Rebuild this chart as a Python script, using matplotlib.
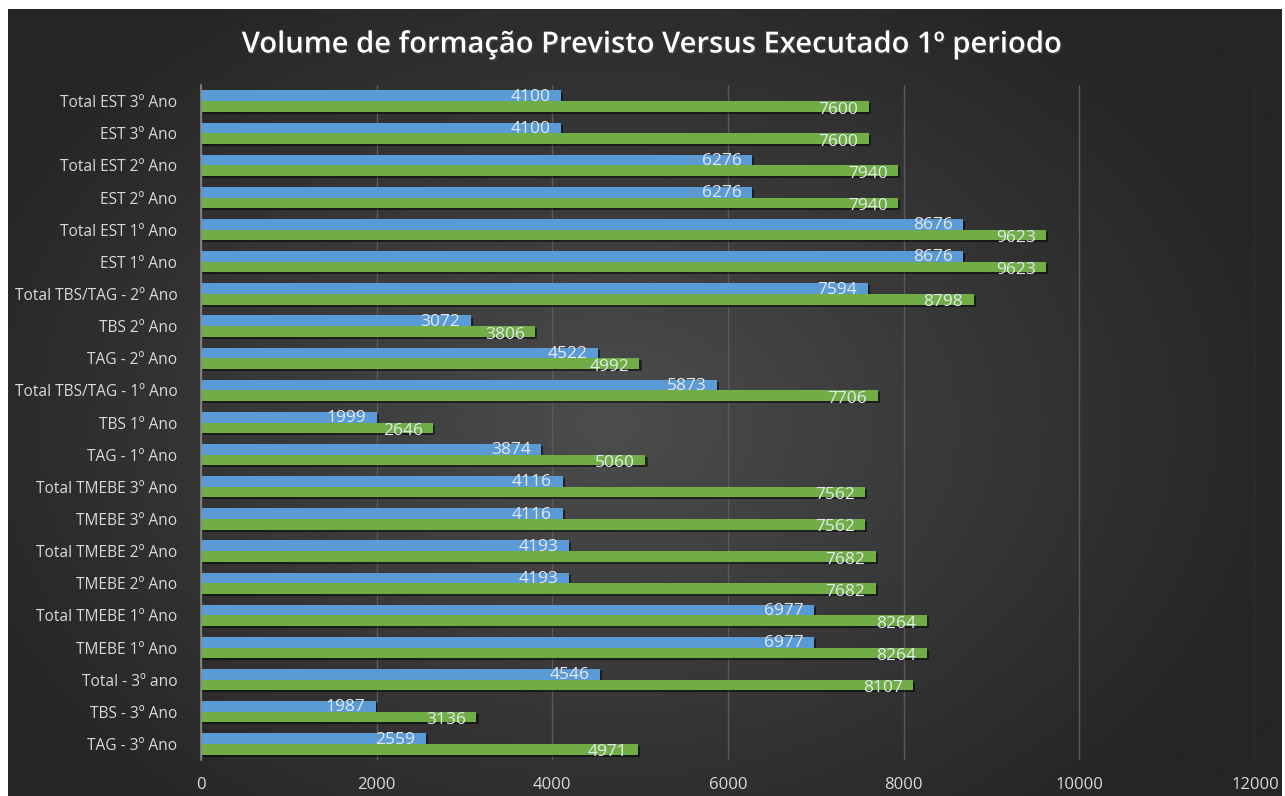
import numpy as np
import matplotlib
matplotlib.use("Agg")
import matplotlib.pyplot as plt
import matplotlib.patheffects as pe

categories = [
    "Total EST 3º Ano", "EST 3º Ano", "Total EST 2º Ano", "EST 2º Ano",
    "Total EST 1º Ano", "EST 1º Ano", "Total TBS/TAG - 2º Ano", "TBS 2º Ano",
    "TAG - 2º Ano", "Total TBS/TAG - 1º Ano", "TBS 1º Ano", "TAG - 1º Ano",
    "Total TMEBE 3º Ano", "TMEBE 3º Ano", "Total TMEBE 2º Ano", "TMEBE 2º Ano",
    "Total TMEBE 1º Ano", "TMEBE 1º Ano", "Total - 3º ano", "TBS - 3º Ano",
    "TAG - 3º Ano",
]
executado = [4100, 4100, 6276, 6276, 8676, 8676, 7594, 3072, 4522, 5873, 1999,
             3874, 4116, 4116, 4193, 4193, 6977, 6977, 4546, 1987, 2559]
previsto = [7600, 7600, 7940, 7940, 9623, 9623, 8798, 3806, 4992, 7706, 2646,
            5060, 7562, 7562, 7682, 7682, 8264, 8264, 8107, 3136, 4971]
xticks = [0, 2000, 4000, 6000, 8000, 10000, 12000]
title = "Volume de formação Previsto Versus Executado 1º periodo"

W, H = 1285, 796
fig = plt.figure(figsize=(W / 100, H / 100), dpi=100)
fig.patch.set_facecolor("white")

# background with radial gradient
bg = fig.add_axes([8 / W, 0, (1282 - 8) / W, (H - 9) / H])
bg.set_axis_off()
yy, xx = np.mgrid[0:200, 0:320]
cx, cy = 150, 105
r = np.sqrt(((xx - cx) / 180) ** 2 + ((yy - cy) / 135) ** 2)
v = np.clip(1 - r, 0, 1)
light = np.array([0x4d, 0x4d, 0x4d]) / 255
dark = np.array([0x25, 0x25, 0x25]) / 255
img = dark + (light - dark) * v[..., None] ** 1.1
bg.imshow(img, aspect="auto", extent=[0, 1, 0, 1], interpolation="bilinear")
bg.set_xlim(0, 1); bg.set_ylim(0, 1)

ax = fig.add_axes([201 / W, (H - 760) / H, (1255 - 201) / W, (760 - 85) / H])
ax.set_facecolor("none")
n = len(categories)
pos = np.arange(n)[::-1]
h = 0.33
shadow = [pe.SimplePatchShadow(offset=(1.5, -1.5), shadow_rgbFace="black", alpha=0.5), pe.Normal()]
b1 = ax.barh(pos + h / 2, executado, height=h, color="#5b9bd5", zorder=3)
b2 = ax.barh(pos - h / 2, previsto, height=h, color="#70ad47", zorder=3)
for b in list(b1) + list(b2):
    b.set_path_effects(shadow)

for p, v1, v2 in zip(pos, executado, previsto):
    ax.text(v1 - 120, p + h / 2 - 0.03, str(v1), ha="right", va="center",
            color="#e4e8ee", fontsize=12.5, family="Open Sans", zorder=5)
    ax.text(v2 - 120, p - h / 2 - 0.1, str(v2), ha="right", va="center",
            color="#e4e8ee", fontsize=12.5, family="Open Sans", zorder=5)

ax.set_xlim(0, 12000)
ax.set_ylim(-0.5, n - 0.5)
ax.set_xticks(xticks)
ax.set_xticklabels([str(t) for t in xticks])
ax.set_yticks(pos)
ax.set_yticklabels(categories)
ax.tick_params(axis="both", length=0, colors="#d9d9d9")
ax.tick_params(axis="y", pad=17, labelsize=11.2)
ax.tick_params(axis="x", pad=12, labelsize=12)
for lab in ax.get_xticklabels() + ax.get_yticklabels():
    lab.set_family("Open Sans")
ax.grid(axis="x", color="#5a5a5a", linewidth=1, zorder=0)
ax.grid(axis="y", visible=False)
for s in ["top", "right", "bottom"]:
    ax.spines[s].set_visible(False)
ax.spines["left"].set_color("#8a8a8a")
ax.spines["left"].set_linewidth(1.2)
ax.spines["left"].set_zorder(4)

fig.text(0.507, (H - 45) / H, title, ha="center", va="center", color="white",
         fontsize=21, fontweight="semibold", family="Open Sans",
         path_effects=[pe.withSimplePatchShadow(offset=(1.2, -1.2), alpha=0.5)])

fig.savefig("out.png", dpi=100, facecolor=fig.get_facecolor())
